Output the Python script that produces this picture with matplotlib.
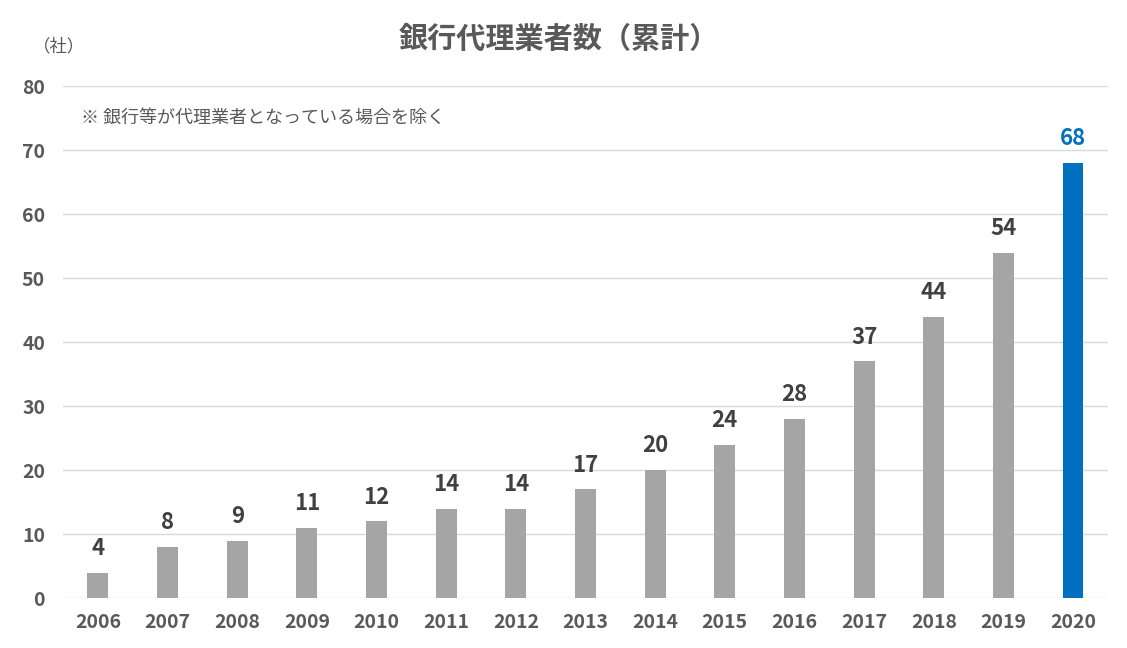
import matplotlib
matplotlib.use("Agg")
import matplotlib.pyplot as plt

plt.rcParams['font.family'] = ['Noto Sans CJK JP', 'DejaVu Sans']

years = ['2006', '2007', '2008', '2009', '2010', '2011', '2012', '2013',
         '2014', '2015', '2016', '2017', '2018', '2019', '2020']
counts = [4, 8, 9, 11, 12, 14, 14, 17, 20, 24, 28, 37, 44, 54, 68]
yticks = [0, 10, 20, 30, 40, 50, 60, 70, 80]
title = '銀行代理業者数（累計）'
unit = '（社）'
note = '※ 銀行等が代理業者となっている場合を除く'

gray = '#A5A5A5'
blue = '#0070C0'
txt = '#595959'

fig = plt.figure(figsize=(11.27, 6.48), dpi=100)
ax = fig.add_axes([0.056, 0.077, 0.927, 0.790])

x = list(range(len(years)))
colors = [gray] * (len(years) - 1) + [blue]
ax.bar(x, counts, width=0.3, color=colors, zorder=3)

for xi, v, c in zip(x, counts, colors):
    ax.text(xi, v + 2.0, str(v), ha='center', va='bottom', fontsize=16,
            fontweight='bold', color=(blue if c == blue else '#404040'))

ax.set_xlim(-0.5, len(years) - 0.5)
ax.set_ylim(0, 80)
ax.set_yticks(yticks)
ax.set_xticks(x)
ax.set_xticklabels(years)
ax.grid(axis='y', color='#D9D9D9', linewidth=1, zorder=0)
for s in ax.spines.values():
    s.set_visible(False)
ax.tick_params(axis='both', length=0, labelsize=14, labelcolor=txt)
ax.tick_params(axis='y', pad=13)
ax.tick_params(axis='x', pad=11)
for lab in ax.get_xticklabels() + ax.get_yticklabels():
    lab.set_fontweight('bold')

fig.text(0.496, 0.94, title, ha='center', va='center', fontsize=21,
         fontweight='bold', color=txt)
fig.text(0.029, 0.928, unit, ha='left', va='center', fontsize=12.5, color=txt)
fig.text(0.072, 0.818, note, ha='left', va='center', fontsize=13, color=txt)

fig.savefig('out.png', dpi=100)
